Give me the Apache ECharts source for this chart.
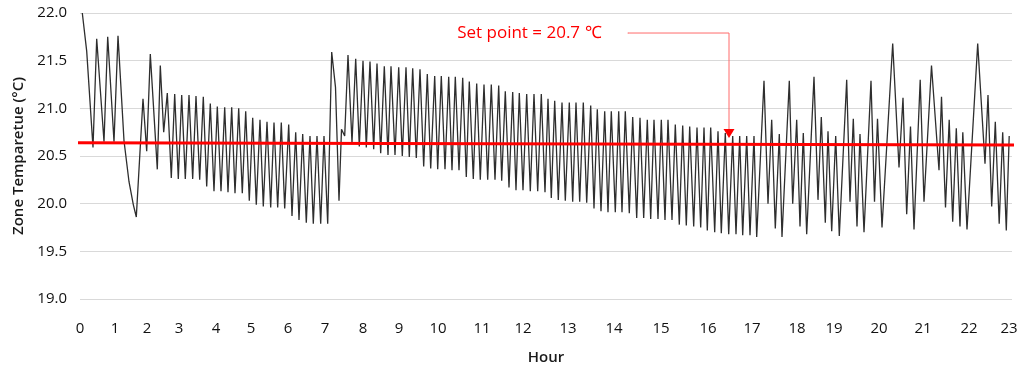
<!DOCTYPE html>
<html>
<head>
<meta charset="utf-8">
<script src="https://cdn.jsdelivr.net/npm/echarts@6/dist/echarts.min.js"></script>
<style>
  body { margin: 0; background: #fff; }
  #chart { width: 1028px; height: 376px; }
</style>
</head>
<body>
<div id="chart"></div>
<script>
// sample position along the x axis (Excel-style sample index scale) and zone temperature
var samplePos = [
  2.3, 6.7, 13, 16.7, 24, 27.7, 34, 38, 44, 49, 53.3, 56.3, 63, 66.7, 70.3, 77.3, 80.3, 83.7, 87.3, 91.3,
  94.7, 98.3, 101.7, 105.3, 109, 112.7, 116, 119.7, 123.3, 126.7, 130.3, 134, 137.3, 141, 144.7, 148, 151.7, 155, 158.7, 162.3,
  165.7, 169.3, 172.7, 176.3, 180, 183.3, 187, 190.7, 194, 197.7, 201.3, 204.7, 208.7, 212, 215.7, 219, 222.7, 226.3, 230, 233.3,
  237, 240.7, 244, 247.7, 251.7, 255.5, 259, 261.5, 263, 264.7, 268, 272, 275.7, 279.3, 283, 286.3, 290, 293.7, 297, 300.7,
  304.3, 308, 311, 315, 318.7, 322.3, 326, 329.3, 332.7, 336.3, 340, 343.7, 347.3, 350.7, 354.7, 357.7, 361.3, 365, 368.7, 372,
  375.3, 379, 382.7, 386.3, 389.3, 393.3, 396.7, 400.3, 404, 407.7, 411.3, 415, 418.7, 421.7, 425.3, 429, 432.7, 436, 439.3, 443,
  446.7, 450.3, 454, 457.7, 461.3, 465, 468, 471.3, 474.7, 478.3, 482, 485.3, 489.3, 492.7, 496, 499.7, 503.3, 506.7, 510.7, 514,
  517.3, 521, 524.7, 528, 531.3, 535.3, 538.7, 542, 545.3, 549.3, 552.7, 556.7, 560, 563.7, 567.3, 570.7, 574, 578, 581.3, 585,
  588, 592, 595.3, 599.3, 602.7, 606.3, 609.7, 613.7, 617, 620.7, 624, 627.3, 630.7, 634.7, 638, 641.3, 645.3, 648.7, 652.7, 656,
  659.7, 662.7, 666.7, 670, 674, 676.7, 684, 688, 691.7, 695.3, 699.3, 702, 709.3, 712.7, 716.7, 720, 723.3, 726.7, 734, 738,
  741.3, 745.3, 748, 751.7, 755.7, 759.3, 766.7, 770, 773.3, 777, 780, 784, 791, 794.5, 797.5, 802, 812.7, 819, 823, 826.7,
  830.5, 834, 840.2, 844, 851.5, 859, 861.5, 865.5, 869.2, 872.7, 876.3, 880, 882.8, 887, 897.7, 905, 908, 911.7, 915.3, 919.2,
  922.7, 926.3, 929.2
];
var zoneTemp = [
  22.00, 21.60, 20.59, 21.73, 20.65, 21.75, 20.65, 21.76, 20.66, 20.23, 19.99, 19.86, 21.10, 20.55, 21.57, 20.36, 21.45, 20.75, 21.16, 20.27,
  21.15, 20.26, 21.14, 20.26, 21.14, 20.26, 21.13, 20.25, 21.12, 20.18, 21.05, 20.13, 21.02, 20.13, 21.01, 20.12, 21.01, 20.11, 21.00, 20.11,
  20.97, 20.03, 20.90, 19.99, 20.88, 19.97, 20.86, 19.96, 20.85, 19.96, 20.85, 19.95, 20.83, 19.87, 20.75, 19.83, 20.73, 19.80, 20.71, 19.79,
  20.71, 19.79, 20.71, 19.79, 21.59, 21.22, 20.03, 20.78, 20.80, 20.71, 21.56, 20.64, 21.52, 20.60, 21.50, 20.59, 21.49, 20.57, 21.47, 20.53,
  21.44, 20.51, 21.44, 20.51, 21.43, 20.50, 21.43, 20.49, 21.42, 20.48, 21.41, 20.39, 21.36, 20.37, 21.34, 20.36, 21.34, 20.36, 21.33, 20.35,
  21.33, 20.35, 21.32, 20.28, 21.28, 20.26, 21.26, 20.25, 21.25, 20.25, 21.25, 20.25, 21.24, 20.24, 21.18, 20.17, 21.17, 20.14, 21.16, 20.14,
  21.15, 20.13, 21.15, 20.13, 21.15, 20.12, 21.10, 20.06, 21.08, 20.04, 21.06, 20.03, 21.06, 20.02, 21.06, 20.02, 21.06, 20.01, 21.03, 19.95,
  20.99, 19.92, 20.97, 19.91, 20.97, 19.91, 20.97, 19.91, 20.97, 19.90, 20.91, 19.85, 20.90, 19.85, 20.88, 19.84, 20.88, 19.84, 20.88, 19.83,
  20.88, 19.83, 20.83, 19.78, 20.82, 19.77, 20.81, 19.76, 20.80, 19.75, 20.80, 19.72, 20.80, 19.70, 20.76, 19.69, 20.74, 19.68, 20.71, 19.68,
  20.71, 19.67, 20.71, 19.67, 20.71, 19.65, 21.29, 20.00, 20.88, 19.74, 20.73, 19.65, 21.29, 20.00, 20.88, 19.76, 20.74, 19.68, 21.33, 20.04,
  20.91, 19.80, 20.76, 19.71, 20.71, 19.66, 21.30, 20.02, 20.89, 19.76, 20.73, 19.70, 21.29, 20.02, 20.89, 19.75, 21.68, 20.38, 21.11, 19.89,
  20.81, 19.73, 21.30, 20.02, 21.45, 20.35, 21.12, 19.96, 20.88, 19.81, 20.79, 19.76, 20.75, 19.73, 21.68, 20.42, 21.14, 19.97, 20.86, 19.79,
  20.75, 19.72, 20.71
];

// hour labels sit at uneven sample positions
var hourLabels = ['0','1','2','3','4','5','6','7','8','9','10','11','12','13','14','15','16','17','18','19','20','21','22','23'];
var hourTickPos = [0, 35, 67, 99, 136, 171, 208, 245, 283, 319, 358, 402, 443, 488, 534, 581, 628, 672, 717, 754, 799, 843, 889, 929];

// set point line (drawn slightly past the plot both sides)
var setPointPos = [-7, 948];
var setPointTemp = [20.64, 20.615];

// annotation arrow path
var arrowPos = [548, 649, 649];
var arrowTemp = [21.79, 21.79, 20.736];

var yTicks = [19.0, 19.5, 20.0, 20.5, 21.0, 21.5, 22.0];

var font = 'Open Sans';
var chart = echarts.init(document.getElementById('chart'));

var option = {
  animation: false,
  backgroundColor: '#fff',
  grid: { left: 80, right: 16, top: 13, bottom: 77 },
  xAxis: {
    type: 'value',
    min: 0,
    max: 932,
    name: 'Hour',
    nameLocation: 'middle',
    nameGap: 51,
    nameTextStyle: { fontFamily: font, fontSize: 15, fontWeight: 600, color: '#1a1a1a' },
    axisLine: { show: false },
    axisTick: { show: false, customValues: hourTickPos },
    splitLine: { show: false },
    axisLabel: {
      customValues: hourTickPos,
      margin: 22,
      fontFamily: font,
      fontSize: 15,
      color: '#111',
      formatter: function (v) {
        var i = hourTickPos.indexOf(v);
        return i >= 0 ? hourLabels[i] : '';
      }
    }
  },
  yAxis: {
    type: 'value',
    min: yTicks[0],
    max: yTicks[yTicks.length - 1],
    interval: 0.5,
    name: 'Zone Temparetue (°C)',
    nameLocation: 'middle',
    nameGap: 52,
    nameTextStyle: { fontFamily: font, fontSize: 15, fontWeight: 600, color: '#1a1a1a' },
    axisLine: { show: false },
    axisTick: { show: false },
    splitLine: { lineStyle: { color: '#d9d9d9', width: 1 } },
    axisLabel: {
      margin: 13,
      fontFamily: font,
      fontSize: 15,
      color: '#111',
      formatter: function (v) { return v.toFixed(1); }
    }
  },
  series: [
    {
      name: 'Zone temperature',
      type: 'line',
      data: samplePos.map(function (p, i) { return [p, zoneTemp[i]]; }),
      showSymbol: false,
      symbol: 'none',
      lineStyle: { color: '#2e2e2e', width: 1.3 },
      z: 2
    },
    {
      name: 'Set point',
      type: 'line',
      data: setPointPos.map(function (p, i) { return [p, setPointTemp[i]]; }),
      clip: false,
      showSymbol: false,
      symbol: 'none',
      lineStyle: { color: '#ff0000', width: 3 },
      z: 3
    },
    {
      name: 'Annotation',
      type: 'line',
      symbol: 'none',
      showSymbol: true,
      lineStyle: { color: '#ff6a6a', width: 1 },
      itemStyle: { color: '#ff6a6a' },
      z: 4,
      data: [
        {
          value: [arrowPos[0], arrowTemp[0]],
          symbol: 'circle',
          symbolSize: 1,
          label: {
            show: true,
            position: 'left',
            distance: 26,
            formatter: 'Set point = 20.7 ℃',
            fontFamily: font,
            fontSize: 17,
            color: '#ff0000'
          }
        },
        [arrowPos[1], arrowTemp[1]],
        {
          value: [arrowPos[2], arrowTemp[2]],
          symbol: 'triangle',
          symbolSize: [11, 9],
          symbolRotate: 180,
          itemStyle: { color: '#ff0000' }
        }
      ]
    }
  ]
};

chart.setOption(option);
</script>
</body>
</html>
